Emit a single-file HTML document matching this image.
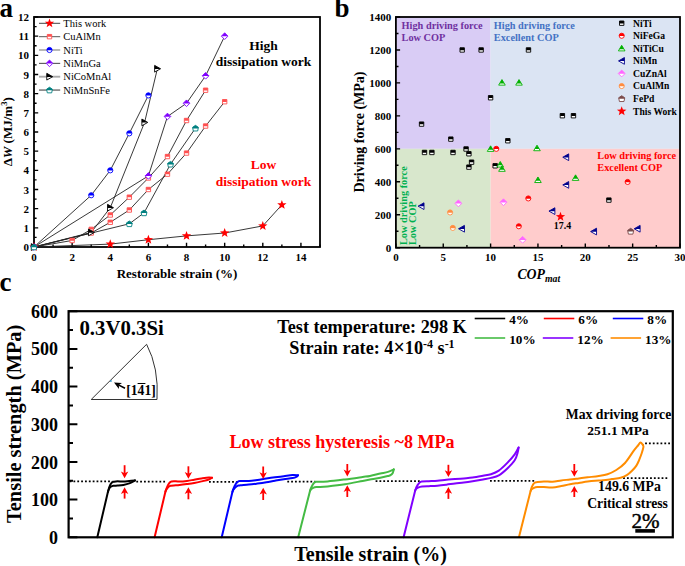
<!DOCTYPE html><html><head><meta charset="utf-8"><style>html,body{margin:0;padding:0;background:#fff;}svg{display:block;}</style></head><body><svg width="685" height="566" viewBox="0 0 685 566" font-family='"Liberation Serif", serif'>
<defs><clipPath id="c55" clipPathUnits="objectBoundingBox"><rect x="-0.2" y="-0.2" width="1.4" height="0.73"/></clipPath><clipPath id="c60" clipPathUnits="objectBoundingBox"><rect x="-0.2" y="-0.2" width="1.4" height="0.74"/></clipPath><clipPath id="c70" clipPathUnits="objectBoundingBox"><rect x="-0.2" y="-0.2" width="1.4" height="0.90"/></clipPath></defs>
<rect width="685" height="566" fill="#fff"/>
<text x="-0.50" y="17.20" font-size="27" font-weight="bold" text-anchor="start" fill="#000" >a</text>
<text x="334.60" y="17.40" font-size="27" font-weight="bold" text-anchor="start" fill="#000" >b</text>
<text x="-0.50" y="290.60" font-size="27" font-weight="bold" text-anchor="start" fill="#000" >c</text>
<rect x="34.0" y="17.0" width="286.0" height="230.0" fill="none" stroke="#000" stroke-width="1.8"/>
<path d="M34.00,247.0V242.8M53.07,247.0V244.4M72.13,247.0V242.8M91.20,247.0V244.4M110.27,247.0V242.8M129.33,247.0V244.4M148.40,247.0V242.8M167.47,247.0V244.4M186.53,247.0V242.8M205.60,247.0V244.4M224.67,247.0V242.8M243.73,247.0V244.4M262.80,247.0V242.8M281.87,247.0V244.4M300.93,247.0V242.8M320.00,247.0V244.4M34.0,247.00H38.2M34.0,237.42H36.6M34.0,227.83H38.2M34.0,218.25H36.6M34.0,208.67H38.2M34.0,199.08H36.6M34.0,189.50H38.2M34.0,179.92H36.6M34.0,170.33H38.2M34.0,160.75H36.6M34.0,151.17H38.2M34.0,141.58H36.6M34.0,132.00H38.2M34.0,122.42H36.6M34.0,112.83H38.2M34.0,103.25H36.6M34.0,93.67H38.2M34.0,84.08H36.6M34.0,74.50H38.2M34.0,64.92H36.6M34.0,55.33H38.2M34.0,45.75H36.6M34.0,36.17H38.2M34.0,26.58H36.6M34.0,17.00H38.2" stroke="#000" stroke-width="1.4"/>
<path d="M34.00,247.00L110.27,244.12L148.40,239.72L186.53,235.88L224.67,233.01L262.80,225.92L281.87,204.83" fill="none" stroke="#222" stroke-width="0.9"/>
<path d="M34.00,247.00L72.13,240.48L91.20,229.37L110.27,214.99L129.33,197.17L148.40,178.00L167.47,156.53L186.53,120.50L205.60,90.22" fill="none" stroke="#222" stroke-width="0.9"/>
<path d="M34.00,247.00L91.20,233.01L110.27,222.28L129.33,210.01L148.40,189.50L167.47,174.17L186.53,153.08L205.60,126.06L224.67,101.72" fill="none" stroke="#222" stroke-width="0.9"/>
<path d="M34.00,247.00L91.20,195.25L110.27,170.33L129.33,133.34L148.40,95.39" fill="none" stroke="#222" stroke-width="0.9"/>
<path d="M34.00,247.00L148.40,175.89L167.47,116.47L186.53,103.25L205.60,75.84L224.67,36.17" fill="none" stroke="#222" stroke-width="0.9"/>
<path d="M34.00,247.00L91.20,232.43L110.27,207.71L144.59,122.42L157.36,68.75" fill="none" stroke="#222" stroke-width="0.9"/>
<path d="M34.00,247.00L129.33,223.81L144.01,212.88L170.52,164.20L195.49,128.17" fill="none" stroke="#222" stroke-width="0.9"/>
<path d="M34.00,242.10L35.21,245.34L38.66,245.49L35.96,247.64L36.88,250.96L34.00,249.06L31.12,250.96L32.04,247.64L29.34,245.49L32.79,245.34Z" fill="#ff0000"/>
<path d="M110.27,239.22L111.48,242.46L114.93,242.61L112.22,244.76L113.15,248.09L110.27,246.18L107.39,248.09L108.31,244.76L105.61,242.61L109.06,242.46Z" fill="#ff0000"/>
<path d="M148.40,234.82L149.61,238.05L153.06,238.20L150.36,240.35L151.28,243.68L148.40,241.77L145.52,243.68L146.44,240.35L143.74,238.20L147.19,238.05Z" fill="#ff0000"/>
<path d="M186.53,230.98L187.74,234.22L191.19,234.37L188.49,236.52L189.41,239.85L186.53,237.94L183.65,239.85L184.58,236.52L181.87,234.37L185.32,234.22Z" fill="#ff0000"/>
<path d="M224.67,228.11L225.88,231.34L229.33,231.49L226.62,233.64L227.55,236.97L224.67,235.07L221.79,236.97L222.71,233.64L220.01,231.49L223.46,231.34Z" fill="#ff0000"/>
<path d="M262.80,221.02L264.01,224.25L267.46,224.40L264.76,226.55L265.68,229.88L262.80,227.97L259.92,229.88L260.84,226.55L258.14,224.40L261.59,224.25Z" fill="#ff0000"/>
<path d="M281.87,199.93L283.08,203.17L286.53,203.32L283.82,205.47L284.75,208.80L281.87,206.89L278.99,208.80L279.91,205.47L277.21,203.32L280.66,203.17Z" fill="#ff0000"/>
<path d="M31.80,244.80H36.20V249.20H31.80Z" fill="#fff" stroke="#ff5050" stroke-width="0.9"/>
<path d="M31.80,244.80H36.20V249.20H31.80Z" fill="#ff5050" clip-path="url(#c60)"/>
<path d="M69.93,238.28H74.33V242.68H69.93Z" fill="#fff" stroke="#ff5050" stroke-width="0.9"/>
<path d="M69.93,238.28H74.33V242.68H69.93Z" fill="#ff5050" clip-path="url(#c60)"/>
<path d="M89.00,227.17H93.40V231.57H89.00Z" fill="#fff" stroke="#ff5050" stroke-width="0.9"/>
<path d="M89.00,227.17H93.40V231.57H89.00Z" fill="#ff5050" clip-path="url(#c60)"/>
<path d="M108.07,212.79H112.47V217.19H108.07Z" fill="#fff" stroke="#ff5050" stroke-width="0.9"/>
<path d="M108.07,212.79H112.47V217.19H108.07Z" fill="#ff5050" clip-path="url(#c60)"/>
<path d="M127.13,194.97H131.53V199.37H127.13Z" fill="#fff" stroke="#ff5050" stroke-width="0.9"/>
<path d="M127.13,194.97H131.53V199.37H127.13Z" fill="#ff5050" clip-path="url(#c60)"/>
<path d="M146.20,175.80H150.60V180.20H146.20Z" fill="#fff" stroke="#ff5050" stroke-width="0.9"/>
<path d="M146.20,175.80H150.60V180.20H146.20Z" fill="#ff5050" clip-path="url(#c60)"/>
<path d="M165.27,154.33H169.67V158.73H165.27Z" fill="#fff" stroke="#ff5050" stroke-width="0.9"/>
<path d="M165.27,154.33H169.67V158.73H165.27Z" fill="#ff5050" clip-path="url(#c60)"/>
<path d="M184.33,118.30H188.73V122.70H184.33Z" fill="#fff" stroke="#ff5050" stroke-width="0.9"/>
<path d="M184.33,118.30H188.73V122.70H184.33Z" fill="#ff5050" clip-path="url(#c60)"/>
<path d="M203.40,88.02H207.80V92.42H203.40Z" fill="#fff" stroke="#ff5050" stroke-width="0.9"/>
<path d="M203.40,88.02H207.80V92.42H203.40Z" fill="#ff5050" clip-path="url(#c60)"/>
<path d="M31.80,244.80H36.20V249.20H31.80Z" fill="#fff" stroke="#ff5050" stroke-width="0.9"/>
<path d="M31.80,244.80H36.20V249.20H31.80Z" fill="#ff5050" clip-path="url(#c60)"/>
<path d="M89.00,230.81H93.40V235.21H89.00Z" fill="#fff" stroke="#ff5050" stroke-width="0.9"/>
<path d="M89.00,230.81H93.40V235.21H89.00Z" fill="#ff5050" clip-path="url(#c60)"/>
<path d="M108.07,220.08H112.47V224.47H108.07Z" fill="#fff" stroke="#ff5050" stroke-width="0.9"/>
<path d="M108.07,220.08H112.47V224.47H108.07Z" fill="#ff5050" clip-path="url(#c60)"/>
<path d="M127.13,207.81H131.53V212.21H127.13Z" fill="#fff" stroke="#ff5050" stroke-width="0.9"/>
<path d="M127.13,207.81H131.53V212.21H127.13Z" fill="#ff5050" clip-path="url(#c60)"/>
<path d="M146.20,187.30H150.60V191.70H146.20Z" fill="#fff" stroke="#ff5050" stroke-width="0.9"/>
<path d="M146.20,187.30H150.60V191.70H146.20Z" fill="#ff5050" clip-path="url(#c60)"/>
<path d="M165.27,171.97H169.67V176.37H165.27Z" fill="#fff" stroke="#ff5050" stroke-width="0.9"/>
<path d="M165.27,171.97H169.67V176.37H165.27Z" fill="#ff5050" clip-path="url(#c60)"/>
<path d="M184.33,150.88H188.73V155.28H184.33Z" fill="#fff" stroke="#ff5050" stroke-width="0.9"/>
<path d="M184.33,150.88H188.73V155.28H184.33Z" fill="#ff5050" clip-path="url(#c60)"/>
<path d="M203.40,123.86H207.80V128.26H203.40Z" fill="#fff" stroke="#ff5050" stroke-width="0.9"/>
<path d="M203.40,123.86H207.80V128.26H203.40Z" fill="#ff5050" clip-path="url(#c60)"/>
<path d="M222.47,99.52H226.87V103.92H222.47Z" fill="#fff" stroke="#ff5050" stroke-width="0.9"/>
<path d="M222.47,99.52H226.87V103.92H222.47Z" fill="#ff5050" clip-path="url(#c60)"/>
<path d="M31.40,247.00A2.6,2.6 0 1 0 36.60,247.00A2.6,2.6 0 1 0 31.40,247.00Z" fill="#fff" stroke="#0000ff" stroke-width="0.9"/>
<path d="M31.40,247.00A2.6,2.6 0 1 0 36.60,247.00A2.6,2.6 0 1 0 31.40,247.00Z" fill="#0000ff" clip-path="url(#c60)"/>
<path d="M88.60,195.25A2.6,2.6 0 1 0 93.80,195.25A2.6,2.6 0 1 0 88.60,195.25Z" fill="#fff" stroke="#0000ff" stroke-width="0.9"/>
<path d="M88.60,195.25A2.6,2.6 0 1 0 93.80,195.25A2.6,2.6 0 1 0 88.60,195.25Z" fill="#0000ff" clip-path="url(#c60)"/>
<path d="M107.67,170.33A2.6,2.6 0 1 0 112.87,170.33A2.6,2.6 0 1 0 107.67,170.33Z" fill="#fff" stroke="#0000ff" stroke-width="0.9"/>
<path d="M107.67,170.33A2.6,2.6 0 1 0 112.87,170.33A2.6,2.6 0 1 0 107.67,170.33Z" fill="#0000ff" clip-path="url(#c60)"/>
<path d="M126.73,133.34A2.6,2.6 0 1 0 131.93,133.34A2.6,2.6 0 1 0 126.73,133.34Z" fill="#fff" stroke="#0000ff" stroke-width="0.9"/>
<path d="M126.73,133.34A2.6,2.6 0 1 0 131.93,133.34A2.6,2.6 0 1 0 126.73,133.34Z" fill="#0000ff" clip-path="url(#c60)"/>
<path d="M145.80,95.39A2.6,2.6 0 1 0 151.00,95.39A2.6,2.6 0 1 0 145.80,95.39Z" fill="#fff" stroke="#0000ff" stroke-width="0.9"/>
<path d="M145.80,95.39A2.6,2.6 0 1 0 151.00,95.39A2.6,2.6 0 1 0 145.80,95.39Z" fill="#0000ff" clip-path="url(#c60)"/>
<path d="M34.00,243.70L37.30,247.00L34.00,250.30L30.70,247.00Z" fill="#fff" stroke="#8000ff" stroke-width="0.9"/>
<path d="M34.00,243.70L37.30,247.00L34.00,250.30L30.70,247.00Z" fill="#8000ff" clip-path="url(#c55)"/>
<path d="M148.40,172.59L151.70,175.89L148.40,179.19L145.10,175.89Z" fill="#fff" stroke="#8000ff" stroke-width="0.9"/>
<path d="M148.40,172.59L151.70,175.89L148.40,179.19L145.10,175.89Z" fill="#8000ff" clip-path="url(#c55)"/>
<path d="M167.47,113.17L170.77,116.47L167.47,119.77L164.17,116.47Z" fill="#fff" stroke="#8000ff" stroke-width="0.9"/>
<path d="M167.47,113.17L170.77,116.47L167.47,119.77L164.17,116.47Z" fill="#8000ff" clip-path="url(#c55)"/>
<path d="M186.53,99.95L189.83,103.25L186.53,106.55L183.23,103.25Z" fill="#fff" stroke="#8000ff" stroke-width="0.9"/>
<path d="M186.53,99.95L189.83,103.25L186.53,106.55L183.23,103.25Z" fill="#8000ff" clip-path="url(#c55)"/>
<path d="M205.60,72.54L208.90,75.84L205.60,79.14L202.30,75.84Z" fill="#fff" stroke="#8000ff" stroke-width="0.9"/>
<path d="M205.60,72.54L208.90,75.84L205.60,79.14L202.30,75.84Z" fill="#8000ff" clip-path="url(#c55)"/>
<path d="M224.67,32.87L227.97,36.17L224.67,39.47L221.37,36.17Z" fill="#fff" stroke="#8000ff" stroke-width="0.9"/>
<path d="M224.67,32.87L227.97,36.17L224.67,39.47L221.37,36.17Z" fill="#8000ff" clip-path="url(#c55)"/>
<path d="M37.20,247.00L31.28,243.64L31.28,250.36Z" fill="#fff" stroke="#000000" stroke-width="0.9"/>
<path d="M37.20,247.00L31.28,243.64L31.28,250.36Z" fill="#000000" clip-path="url(#c55)"/>
<path d="M94.40,232.43L88.48,229.07L88.48,235.79Z" fill="#fff" stroke="#000000" stroke-width="0.9"/>
<path d="M94.40,232.43L88.48,229.07L88.48,235.79Z" fill="#000000" clip-path="url(#c55)"/>
<path d="M113.47,207.71L107.55,204.35L107.55,211.07Z" fill="#fff" stroke="#000000" stroke-width="0.9"/>
<path d="M113.47,207.71L107.55,204.35L107.55,211.07Z" fill="#000000" clip-path="url(#c55)"/>
<path d="M147.79,122.42L141.87,119.06L141.87,125.78Z" fill="#fff" stroke="#000000" stroke-width="0.9"/>
<path d="M147.79,122.42L141.87,119.06L141.87,125.78Z" fill="#000000" clip-path="url(#c55)"/>
<path d="M160.56,68.75L154.64,65.39L154.64,72.11Z" fill="#fff" stroke="#000000" stroke-width="0.9"/>
<path d="M160.56,68.75L154.64,65.39L154.64,72.11Z" fill="#000000" clip-path="url(#c55)"/>
<path d="M34.00,244.20L36.94,246.16L36.18,249.80L31.82,249.80L31.06,246.16Z" fill="#fff" stroke="#008080" stroke-width="0.9"/>
<path d="M34.00,244.20L36.94,246.16L36.18,249.80L31.82,249.80L31.06,246.16Z" fill="#008080" clip-path="url(#c60)"/>
<path d="M129.33,221.01L132.27,222.97L131.52,226.61L127.15,226.61L126.39,222.97Z" fill="#fff" stroke="#008080" stroke-width="0.9"/>
<path d="M129.33,221.01L132.27,222.97L131.52,226.61L127.15,226.61L126.39,222.97Z" fill="#008080" clip-path="url(#c60)"/>
<path d="M144.01,210.08L146.95,212.04L146.20,215.68L141.83,215.68L141.07,212.04Z" fill="#fff" stroke="#008080" stroke-width="0.9"/>
<path d="M144.01,210.08L146.95,212.04L146.20,215.68L141.83,215.68L141.07,212.04Z" fill="#008080" clip-path="url(#c60)"/>
<path d="M170.52,161.40L173.46,163.36L172.70,167.00L168.33,167.00L167.58,163.36Z" fill="#fff" stroke="#008080" stroke-width="0.9"/>
<path d="M170.52,161.40L173.46,163.36L172.70,167.00L168.33,167.00L167.58,163.36Z" fill="#008080" clip-path="url(#c60)"/>
<path d="M195.49,125.37L198.43,127.33L197.68,130.97L193.31,130.97L192.55,127.33Z" fill="#fff" stroke="#008080" stroke-width="0.9"/>
<path d="M195.49,125.37L198.43,127.33L197.68,130.97L193.31,130.97L192.55,127.33Z" fill="#008080" clip-path="url(#c60)"/>
<text x="34.00" y="260.80" font-size="11" font-weight="bold" text-anchor="middle" fill="#000" >0</text>
<text x="72.13" y="260.80" font-size="11" font-weight="bold" text-anchor="middle" fill="#000" >2</text>
<text x="110.27" y="260.80" font-size="11" font-weight="bold" text-anchor="middle" fill="#000" >4</text>
<text x="148.40" y="260.80" font-size="11" font-weight="bold" text-anchor="middle" fill="#000" >6</text>
<text x="186.53" y="260.80" font-size="11" font-weight="bold" text-anchor="middle" fill="#000" >8</text>
<text x="224.67" y="260.80" font-size="11" font-weight="bold" text-anchor="middle" fill="#000" >10</text>
<text x="262.80" y="260.80" font-size="11" font-weight="bold" text-anchor="middle" fill="#000" >12</text>
<text x="300.93" y="260.80" font-size="11" font-weight="bold" text-anchor="middle" fill="#000" >14</text>
<text x="29.00" y="251.00" font-size="11" font-weight="bold" text-anchor="end" fill="#000" >0</text>
<text x="29.00" y="231.83" font-size="11" font-weight="bold" text-anchor="end" fill="#000" >1</text>
<text x="29.00" y="212.67" font-size="11" font-weight="bold" text-anchor="end" fill="#000" >2</text>
<text x="29.00" y="193.50" font-size="11" font-weight="bold" text-anchor="end" fill="#000" >3</text>
<text x="29.00" y="174.33" font-size="11" font-weight="bold" text-anchor="end" fill="#000" >4</text>
<text x="29.00" y="155.17" font-size="11" font-weight="bold" text-anchor="end" fill="#000" >5</text>
<text x="29.00" y="136.00" font-size="11" font-weight="bold" text-anchor="end" fill="#000" >6</text>
<text x="29.00" y="116.83" font-size="11" font-weight="bold" text-anchor="end" fill="#000" >7</text>
<text x="29.00" y="97.67" font-size="11" font-weight="bold" text-anchor="end" fill="#000" >8</text>
<text x="29.00" y="78.50" font-size="11" font-weight="bold" text-anchor="end" fill="#000" >9</text>
<text x="29.00" y="59.33" font-size="11" font-weight="bold" text-anchor="end" fill="#000" >10</text>
<text x="29.00" y="40.17" font-size="11" font-weight="bold" text-anchor="end" fill="#000" >11</text>
<text x="29.00" y="21.00" font-size="11" font-weight="bold" text-anchor="end" fill="#000" >12</text>
<text x="177.00" y="277.70" font-size="13" font-weight="bold" text-anchor="middle" fill="#000" >Restorable strain (%)</text>
<text transform="translate(12.2,131.8) rotate(-90)" text-anchor="middle" font-size="13" font-weight="bold">&#916;<tspan font-style="italic">W</tspan> (MJ/m<tspan font-size="8.5" dy="-5">3</tspan><tspan dy="5">)</tspan></text>
<path d="M39,23.30H60.2" stroke="#444" stroke-width="1.0"/>
<path d="M49.50,18.40L50.71,21.64L54.16,21.79L51.46,23.94L52.38,27.26L49.50,25.36L46.62,27.26L47.54,23.94L44.84,21.79L48.29,21.64Z" fill="#ff0000"/>
<text x="63.30" y="26.90" font-size="10.5" font-weight="normal" text-anchor="start" fill="#000" >This work</text>
<path d="M39,36.65H60.2" stroke="#666" stroke-width="1.1"/>
<path d="M47.30,34.45H51.70V38.85H47.30Z" fill="#fff" stroke="#ff5050" stroke-width="0.9"/>
<path d="M47.30,34.45H51.70V38.85H47.30Z" fill="#ff5050" clip-path="url(#c60)"/>
<text x="63.30" y="40.25" font-size="10.5" font-weight="normal" text-anchor="start" fill="#000" >CuAlMn</text>
<path d="M39,50.00H60.2" stroke="#888" stroke-width="1.2"/>
<path d="M46.90,50.00A2.6,2.6 0 1 0 52.10,50.00A2.6,2.6 0 1 0 46.90,50.00Z" fill="#fff" stroke="#0000ff" stroke-width="0.9"/>
<path d="M46.90,50.00A2.6,2.6 0 1 0 52.10,50.00A2.6,2.6 0 1 0 46.90,50.00Z" fill="#0000ff" clip-path="url(#c60)"/>
<text x="63.30" y="53.60" font-size="10.5" font-weight="normal" text-anchor="start" fill="#000" >NiTi</text>
<path d="M39,63.35H60.2" stroke="#444" stroke-width="1.0"/>
<path d="M49.50,60.05L52.80,63.35L49.50,66.65L46.20,63.35Z" fill="#fff" stroke="#8000ff" stroke-width="0.9"/>
<path d="M49.50,60.05L52.80,63.35L49.50,66.65L46.20,63.35Z" fill="#8000ff" clip-path="url(#c55)"/>
<text x="63.30" y="66.95" font-size="10.5" font-weight="normal" text-anchor="start" fill="#000" >NiMnGa</text>
<path d="M39,76.70H60.2" stroke="#aaa" stroke-width="1.9"/>
<path d="M52.70,76.70L46.78,73.34L46.78,80.06Z" fill="#fff" stroke="#000000" stroke-width="0.9"/>
<path d="M52.70,76.70L46.78,73.34L46.78,80.06Z" fill="#000000" clip-path="url(#c55)"/>
<text x="63.30" y="80.30" font-size="10.5" font-weight="normal" text-anchor="start" fill="#000" >NiCoMnAl</text>
<path d="M39,90.05H60.2" stroke="#333" stroke-width="1.0"/>
<path d="M49.50,87.25L52.44,89.21L51.68,92.85L47.32,92.85L46.56,89.21Z" fill="#fff" stroke="#008080" stroke-width="0.9"/>
<path d="M49.50,87.25L52.44,89.21L51.68,92.85L47.32,92.85L46.56,89.21Z" fill="#008080" clip-path="url(#c60)"/>
<text x="63.30" y="93.65" font-size="10.5" font-weight="normal" text-anchor="start" fill="#000" >NiMnSnFe</text>
<text x="263.50" y="49.90" font-size="13.5" font-weight="bold" text-anchor="middle" fill="#000" >High</text>
<text x="263.50" y="66.30" font-size="13.5" font-weight="bold" text-anchor="middle" fill="#000" >dissipation work</text>
<text x="263.50" y="169.10" font-size="13.5" font-weight="bold" text-anchor="middle" fill="#ff0000" >Low</text>
<text x="263.50" y="185.50" font-size="13.5" font-weight="bold" text-anchor="middle" fill="#ff0000" >dissipation work</text>
<rect x="395.9" y="17.0" width="94.70" height="131.83" fill="#d9ccf5"/>
<rect x="490.60" y="17.0" width="189.40" height="131.83" fill="#dbe4f3"/>
<rect x="395.9" y="148.83" width="94.70" height="98.87" fill="#d8e7cc"/>
<rect x="490.60" y="148.83" width="189.40" height="98.87" fill="#ffcccc"/>
<text x="401.60" y="28.90" font-size="10.3" font-weight="bold" text-anchor="start" fill="#7030a0" >High driving force</text>
<text x="401.60" y="41.00" font-size="10.3" font-weight="bold" text-anchor="start" fill="#7030a0" >Low COP</text>
<text x="493.80" y="28.90" font-size="10.3" font-weight="bold" text-anchor="start" fill="#4472c4" >High driving force</text>
<text x="493.80" y="41.00" font-size="10.3" font-weight="bold" text-anchor="start" fill="#4472c4" >Excellent COP</text>
<text x="597.30" y="159.00" font-size="10.3" font-weight="bold" text-anchor="start" fill="#ff0000" >Low driving force</text>
<text x="597.30" y="171.20" font-size="10.3" font-weight="bold" text-anchor="start" fill="#ff0000" >Excellent COP</text>
<text transform="translate(407.4,245) rotate(-90)" font-size="10.3" font-weight="bold" fill="#00b050">Low driving force</text>
<text transform="translate(416.2,245) rotate(-90)" font-size="10.3" font-weight="bold" fill="#00b050">Low COP</text>
<path d="M459.99,47.76H464.39V52.16H459.99Z" fill="#fff" stroke="#000000" stroke-width="0.9"/>
<path d="M459.99,47.76H464.39V52.16H459.99Z" fill="#000000" clip-path="url(#c60)"/>
<path d="M478.93,47.76H483.33V52.16H478.93Z" fill="#fff" stroke="#000000" stroke-width="0.9"/>
<path d="M478.93,47.76H483.33V52.16H478.93Z" fill="#000000" clip-path="url(#c60)"/>
<path d="M526.28,47.76H530.68V52.16H526.28Z" fill="#fff" stroke="#000000" stroke-width="0.9"/>
<path d="M526.28,47.76H530.68V52.16H526.28Z" fill="#000000" clip-path="url(#c60)"/>
<path d="M488.40,95.54H492.80V99.94H488.40Z" fill="#fff" stroke="#000000" stroke-width="0.9"/>
<path d="M488.40,95.54H492.80V99.94H488.40Z" fill="#000000" clip-path="url(#c60)"/>
<path d="M419.36,121.91H423.76V126.31H419.36Z" fill="#fff" stroke="#000000" stroke-width="0.9"/>
<path d="M419.36,121.91H423.76V126.31H419.36Z" fill="#000000" clip-path="url(#c60)"/>
<path d="M448.63,136.91H453.03V141.31H448.63Z" fill="#fff" stroke="#000000" stroke-width="0.9"/>
<path d="M448.63,136.91H453.03V141.31H448.63Z" fill="#000000" clip-path="url(#c60)"/>
<path d="M422.30,150.25H426.70V154.65H422.30Z" fill="#fff" stroke="#000000" stroke-width="0.9"/>
<path d="M422.30,150.25H426.70V154.65H422.30Z" fill="#000000" clip-path="url(#c60)"/>
<path d="M429.69,150.25H434.09V154.65H429.69Z" fill="#fff" stroke="#000000" stroke-width="0.9"/>
<path d="M429.69,150.25H434.09V154.65H429.69Z" fill="#000000" clip-path="url(#c60)"/>
<path d="M450.80,150.25H455.20V154.65H450.80Z" fill="#fff" stroke="#000000" stroke-width="0.9"/>
<path d="M450.80,150.25H455.20V154.65H450.80Z" fill="#000000" clip-path="url(#c60)"/>
<path d="M463.87,146.79H468.27V151.19H463.87Z" fill="#fff" stroke="#000000" stroke-width="0.9"/>
<path d="M463.87,146.79H468.27V151.19H463.87Z" fill="#000000" clip-path="url(#c60)"/>
<path d="M466.71,151.57H471.11V155.97H466.71Z" fill="#fff" stroke="#000000" stroke-width="0.9"/>
<path d="M466.71,151.57H471.11V155.97H466.71Z" fill="#000000" clip-path="url(#c60)"/>
<path d="M469.37,159.98H473.77V164.38H469.37Z" fill="#fff" stroke="#000000" stroke-width="0.9"/>
<path d="M469.37,159.98H473.77V164.38H469.37Z" fill="#000000" clip-path="url(#c60)"/>
<path d="M466.71,164.92H471.11V169.32H466.71Z" fill="#fff" stroke="#000000" stroke-width="0.9"/>
<path d="M466.71,164.92H471.11V169.32H466.71Z" fill="#000000" clip-path="url(#c60)"/>
<path d="M505.64,138.55H510.04V142.95H505.64Z" fill="#fff" stroke="#000000" stroke-width="0.9"/>
<path d="M505.64,138.55H510.04V142.95H505.64Z" fill="#000000" clip-path="url(#c60)"/>
<path d="M492.95,163.60H497.35V168.00H492.95Z" fill="#fff" stroke="#000000" stroke-width="0.9"/>
<path d="M492.95,163.60H497.35V168.00H492.95Z" fill="#000000" clip-path="url(#c60)"/>
<path d="M560.18,113.51H564.58V117.91H560.18Z" fill="#fff" stroke="#000000" stroke-width="0.9"/>
<path d="M560.18,113.51H564.58V117.91H560.18Z" fill="#000000" clip-path="url(#c60)"/>
<path d="M571.26,113.51H575.66V117.91H571.26Z" fill="#fff" stroke="#000000" stroke-width="0.9"/>
<path d="M571.26,113.51H575.66V117.91H571.26Z" fill="#000000" clip-path="url(#c60)"/>
<path d="M606.68,197.88H611.08V202.28H606.68Z" fill="#fff" stroke="#000000" stroke-width="0.9"/>
<path d="M606.68,197.88H611.08V202.28H606.68Z" fill="#000000" clip-path="url(#c60)"/>
<path d="M493.73,148.83A2.55,2.55 0 1 0 498.83,148.83A2.55,2.55 0 1 0 493.73,148.83Z" fill="#fff" stroke="#ff0000" stroke-width="0.9"/>
<path d="M493.73,148.83A2.55,2.55 0 1 0 498.83,148.83A2.55,2.55 0 1 0 493.73,148.83Z" fill="#ff0000" clip-path="url(#c60)"/>
<path d="M525.74,198.43A2.55,2.55 0 1 0 530.84,198.43A2.55,2.55 0 1 0 525.74,198.43Z" fill="#fff" stroke="#ff0000" stroke-width="0.9"/>
<path d="M525.74,198.43A2.55,2.55 0 1 0 530.84,198.43A2.55,2.55 0 1 0 525.74,198.43Z" fill="#ff0000" clip-path="url(#c60)"/>
<path d="M516.27,226.28A2.55,2.55 0 1 0 521.37,226.28A2.55,2.55 0 1 0 516.27,226.28Z" fill="#fff" stroke="#ff0000" stroke-width="0.9"/>
<path d="M516.27,226.28A2.55,2.55 0 1 0 521.37,226.28A2.55,2.55 0 1 0 516.27,226.28Z" fill="#ff0000" clip-path="url(#c60)"/>
<path d="M625.08,181.95A2.55,2.55 0 1 0 630.18,181.95A2.55,2.55 0 1 0 625.08,181.95Z" fill="#fff" stroke="#ff0000" stroke-width="0.9"/>
<path d="M625.08,181.95A2.55,2.55 0 1 0 630.18,181.95A2.55,2.55 0 1 0 625.08,181.95Z" fill="#ff0000" clip-path="url(#c60)"/>
<path d="M490.60,145.83L493.90,151.38L487.30,151.38Z" fill="#fff" stroke="#00b000" stroke-width="0.9"/>
<path d="M490.60,145.83L493.90,151.38L487.30,151.38Z" fill="#00b000" clip-path="url(#c70)"/>
<path d="M501.96,79.58L505.26,85.13L498.66,85.13Z" fill="#fff" stroke="#00b000" stroke-width="0.9"/>
<path d="M501.96,79.58L505.26,85.13L498.66,85.13Z" fill="#00b000" clip-path="url(#c70)"/>
<path d="M519.01,79.58L522.31,85.13L515.71,85.13Z" fill="#fff" stroke="#00b000" stroke-width="0.9"/>
<path d="M519.01,79.58L522.31,85.13L515.71,85.13Z" fill="#00b000" clip-path="url(#c70)"/>
<path d="M537.00,145.17L540.30,150.72L533.70,150.72Z" fill="#fff" stroke="#00b000" stroke-width="0.9"/>
<path d="M537.00,145.17L540.30,150.72L533.70,150.72Z" fill="#00b000" clip-path="url(#c70)"/>
<path d="M500.26,161.48L503.56,167.03L496.96,167.03Z" fill="#fff" stroke="#00b000" stroke-width="0.9"/>
<path d="M500.26,161.48L503.56,167.03L496.96,167.03Z" fill="#00b000" clip-path="url(#c70)"/>
<path d="M501.96,165.77L505.26,171.32L498.66,171.32Z" fill="#fff" stroke="#00b000" stroke-width="0.9"/>
<path d="M501.96,165.77L505.26,171.32L498.66,171.32Z" fill="#00b000" clip-path="url(#c70)"/>
<path d="M537.95,176.97L541.25,182.52L534.65,182.52Z" fill="#fff" stroke="#00b000" stroke-width="0.9"/>
<path d="M537.95,176.97L541.25,182.52L534.65,182.52Z" fill="#00b000" clip-path="url(#c70)"/>
<path d="M575.55,174.83L578.85,180.38L572.25,180.38Z" fill="#fff" stroke="#00b000" stroke-width="0.9"/>
<path d="M575.55,174.83L578.85,180.38L572.25,180.38Z" fill="#00b000" clip-path="url(#c70)"/>
<path d="M562.78,157.23L568.70,153.87L568.70,160.59Z" fill="#fff" stroke="#00008b" stroke-width="0.9"/>
<path d="M562.78,157.23L568.70,153.87L568.70,160.59Z" fill="#00008b" clip-path="url(#c55)"/>
<path d="M562.78,184.92L568.70,181.56L568.70,188.28Z" fill="#fff" stroke="#00008b" stroke-width="0.9"/>
<path d="M562.78,184.92L568.70,181.56L568.70,188.28Z" fill="#00008b" clip-path="url(#c55)"/>
<path d="M548.95,211.12L554.88,207.76L554.88,214.48Z" fill="#fff" stroke="#00008b" stroke-width="0.9"/>
<path d="M548.95,211.12L554.88,207.76L554.88,214.48Z" fill="#00008b" clip-path="url(#c55)"/>
<path d="M418.08,206.17L424.00,202.81L424.00,209.53Z" fill="#fff" stroke="#00008b" stroke-width="0.9"/>
<path d="M418.08,206.17L424.00,202.81L424.00,209.53Z" fill="#00008b" clip-path="url(#c55)"/>
<path d="M458.52,228.75L464.44,225.39L464.44,232.11Z" fill="#fff" stroke="#00008b" stroke-width="0.9"/>
<path d="M458.52,228.75L464.44,225.39L464.44,232.11Z" fill="#00008b" clip-path="url(#c55)"/>
<path d="M590.62,231.55L596.54,228.19L596.54,234.91Z" fill="#fff" stroke="#00008b" stroke-width="0.9"/>
<path d="M590.62,231.55L596.54,228.19L596.54,234.91Z" fill="#00008b" clip-path="url(#c55)"/>
<path d="M634.18,228.75L640.11,225.39L640.11,232.11Z" fill="#fff" stroke="#00008b" stroke-width="0.9"/>
<path d="M634.18,228.75L640.11,225.39L640.11,232.11Z" fill="#00008b" clip-path="url(#c55)"/>
<path d="M503.48,198.82L506.88,202.22L503.48,205.62L500.08,202.22Z" fill="#fff" stroke="#ff66ff" stroke-width="0.9"/>
<path d="M503.48,198.82L506.88,202.22L503.48,205.62L500.08,202.22Z" fill="#ff66ff" clip-path="url(#c55)"/>
<path d="M522.61,236.39L526.01,239.79L522.61,243.19L519.21,239.79Z" fill="#fff" stroke="#ff66ff" stroke-width="0.9"/>
<path d="M522.61,236.39L526.01,239.79L522.61,243.19L519.21,239.79Z" fill="#ff66ff" clip-path="url(#c55)"/>
<path d="M458.40,199.97L461.80,203.37L458.40,206.77L455.00,203.37Z" fill="#fff" stroke="#ff66ff" stroke-width="0.9"/>
<path d="M458.40,199.97L461.80,203.37L458.40,206.77L455.00,203.37Z" fill="#ff66ff" clip-path="url(#c55)"/>
<path d="M447.52,212.44A2.55,2.55 0 1 0 452.62,212.44A2.55,2.55 0 1 0 447.52,212.44Z" fill="#fff" stroke="#ff8c40" stroke-width="0.9"/>
<path d="M447.52,212.44A2.55,2.55 0 1 0 452.62,212.44A2.55,2.55 0 1 0 447.52,212.44Z" fill="#ff8c40" clip-path="url(#c60)"/>
<path d="M450.26,227.93A2.55,2.55 0 1 0 455.36,227.93A2.55,2.55 0 1 0 450.26,227.93Z" fill="#fff" stroke="#ff8c40" stroke-width="0.9"/>
<path d="M450.26,227.93A2.55,2.55 0 1 0 455.36,227.93A2.55,2.55 0 1 0 450.26,227.93Z" fill="#ff8c40" clip-path="url(#c60)"/>
<path d="M630.66,228.32L633.71,230.35L632.92,234.12L628.40,234.12L627.62,230.35Z" fill="#fff" stroke="#7b4a4a" stroke-width="0.9"/>
<path d="M630.66,228.32L633.71,230.35L632.92,234.12L628.40,234.12L627.62,230.35Z" fill="#7b4a4a" clip-path="url(#c60)"/>
<path d="M560.49,211.82L561.70,215.06L565.15,215.21L562.45,217.36L563.37,220.68L560.49,218.78L557.61,220.68L558.53,217.36L555.83,215.21L559.28,215.06Z" fill="#ff0000"/>
<text x="562.50" y="229.00" font-size="9.9" font-weight="bold" text-anchor="middle" fill="#000" >17.4</text>
<path d="M619.50,21.00H623.90V25.40H619.50Z" fill="#fff" stroke="#000000" stroke-width="0.9"/>
<path d="M619.50,21.00H623.90V25.40H619.50Z" fill="#000000" clip-path="url(#c60)"/>
<text x="633.10" y="26.60" font-size="9.6" font-weight="bold" text-anchor="start" fill="#000" >NiTi</text>
<path d="M619.15,35.77A2.55,2.55 0 1 0 624.25,35.77A2.55,2.55 0 1 0 619.15,35.77Z" fill="#fff" stroke="#ff0000" stroke-width="0.9"/>
<path d="M619.15,35.77A2.55,2.55 0 1 0 624.25,35.77A2.55,2.55 0 1 0 619.15,35.77Z" fill="#ff0000" clip-path="url(#c60)"/>
<text x="633.10" y="39.17" font-size="9.6" font-weight="bold" text-anchor="start" fill="#000" >NiFeGa</text>
<path d="M621.70,45.34L625.00,50.89L618.40,50.89Z" fill="#fff" stroke="#00b000" stroke-width="0.9"/>
<path d="M621.70,45.34L625.00,50.89L618.40,50.89Z" fill="#00b000" clip-path="url(#c70)"/>
<text x="633.10" y="51.74" font-size="9.6" font-weight="bold" text-anchor="start" fill="#000" >NiTiCu</text>
<path d="M618.50,60.91L624.42,57.55L624.42,64.27Z" fill="#fff" stroke="#00008b" stroke-width="0.9"/>
<path d="M618.50,60.91L624.42,57.55L624.42,64.27Z" fill="#00008b" clip-path="url(#c55)"/>
<text x="633.10" y="64.31" font-size="9.6" font-weight="bold" text-anchor="start" fill="#000" >NiMn</text>
<path d="M621.70,70.08L625.10,73.48L621.70,76.88L618.30,73.48Z" fill="#fff" stroke="#ff66ff" stroke-width="0.9"/>
<path d="M621.70,70.08L625.10,73.48L621.70,76.88L618.30,73.48Z" fill="#ff66ff" clip-path="url(#c55)"/>
<text x="633.10" y="76.88" font-size="9.6" font-weight="bold" text-anchor="start" fill="#000" >CuZnAl</text>
<path d="M619.15,86.05A2.55,2.55 0 1 0 624.25,86.05A2.55,2.55 0 1 0 619.15,86.05Z" fill="#fff" stroke="#ff8c40" stroke-width="0.9"/>
<path d="M619.15,86.05A2.55,2.55 0 1 0 624.25,86.05A2.55,2.55 0 1 0 619.15,86.05Z" fill="#ff8c40" clip-path="url(#c60)"/>
<text x="633.10" y="89.45" font-size="9.6" font-weight="bold" text-anchor="start" fill="#000" >CuAlMn</text>
<path d="M621.70,95.72L624.75,97.75L623.96,101.52L619.44,101.52L618.66,97.75Z" fill="#fff" stroke="#7b4a4a" stroke-width="0.9"/>
<path d="M621.70,95.72L624.75,97.75L623.96,101.52L619.44,101.52L618.66,97.75Z" fill="#7b4a4a" clip-path="url(#c60)"/>
<text x="633.10" y="102.02" font-size="9.6" font-weight="bold" text-anchor="start" fill="#000" >FePd</text>
<path d="M621.70,106.19L622.93,109.49L626.46,109.64L623.70,111.84L624.64,115.24L621.70,113.29L618.76,115.24L619.70,111.84L616.94,109.64L620.47,109.49Z" fill="#ff0000"/>
<text x="633.10" y="114.59" font-size="9.6" font-weight="bold" text-anchor="start" fill="#000" >This Work</text>
<rect x="395.9" y="17.0" width="284.10" height="230.70" fill="none" stroke="#000" stroke-width="1.8"/>
<path d="M395.90,247.7V243.5M419.57,247.7V245.1M443.25,247.7V243.5M466.92,247.7V245.1M490.60,247.7V243.5M514.27,247.7V245.1M537.95,247.7V243.5M561.62,247.7V245.1M585.30,247.7V243.5M608.98,247.7V245.1M632.65,247.7V243.5M656.33,247.7V245.1M680.00,247.7V243.5M395.9,247.70H400.09999999999997M395.9,231.22H398.5M395.9,214.74H400.09999999999997M395.9,198.26H398.5M395.9,181.79H400.09999999999997M395.9,165.31H398.5M395.9,148.83H400.09999999999997M395.9,132.35H398.5M395.9,115.87H400.09999999999997M395.9,99.39H398.5M395.9,82.91H400.09999999999997M395.9,66.44H398.5M395.9,49.96H400.09999999999997M395.9,33.48H398.5M395.9,17.00H400.09999999999997" stroke="#000" stroke-width="1.4"/>
<text x="395.90" y="261.40" font-size="11" font-weight="bold" text-anchor="middle" fill="#000" >0</text>
<text x="443.25" y="261.40" font-size="11" font-weight="bold" text-anchor="middle" fill="#000" >5</text>
<text x="490.60" y="261.40" font-size="11" font-weight="bold" text-anchor="middle" fill="#000" >10</text>
<text x="537.95" y="261.40" font-size="11" font-weight="bold" text-anchor="middle" fill="#000" >15</text>
<text x="585.30" y="261.40" font-size="11" font-weight="bold" text-anchor="middle" fill="#000" >20</text>
<text x="632.65" y="261.40" font-size="11" font-weight="bold" text-anchor="middle" fill="#000" >25</text>
<text x="680.00" y="261.40" font-size="11" font-weight="bold" text-anchor="middle" fill="#000" >30</text>
<text x="391.30" y="251.70" font-size="11" font-weight="bold" text-anchor="end" fill="#000" >0</text>
<text x="391.30" y="218.74" font-size="11" font-weight="bold" text-anchor="end" fill="#000" >200</text>
<text x="391.30" y="185.79" font-size="11" font-weight="bold" text-anchor="end" fill="#000" >400</text>
<text x="391.30" y="152.83" font-size="11" font-weight="bold" text-anchor="end" fill="#000" >600</text>
<text x="391.30" y="119.87" font-size="11" font-weight="bold" text-anchor="end" fill="#000" >800</text>
<text x="391.30" y="86.91" font-size="11" font-weight="bold" text-anchor="end" fill="#000" >1000</text>
<text x="391.30" y="53.96" font-size="11" font-weight="bold" text-anchor="end" fill="#000" >1200</text>
<text x="391.30" y="21.00" font-size="11" font-weight="bold" text-anchor="end" fill="#000" >1400</text>
<text transform="translate(363.6,132.0) rotate(-90)" text-anchor="middle" font-size="14" font-weight="bold">Driving force (MPa)</text>
<text x="517.4" y="278.9" font-size="13.8" font-weight="bold" font-style="italic">COP<tspan font-size="9.8" dy="3.3">mat</tspan></text>
<path d="M69.6,481.4H112.3" stroke="#000" stroke-width="1.8" stroke-dasharray="1.8,2.05"/>
<path d="M136.3,481.7H166.5" stroke="#000" stroke-width="1.8" stroke-dasharray="1.8,2.05"/>
<path d="M209.0,481.8H236.8" stroke="#000" stroke-width="1.8" stroke-dasharray="1.8,2.05"/>
<path d="M287.3,481.7H315.3" stroke="#000" stroke-width="1.8" stroke-dasharray="1.8,2.05"/>
<path d="M375.6,481.2H420.5" stroke="#000" stroke-width="1.8" stroke-dasharray="1.8,2.05"/>
<path d="M490.0,480.9H535.0" stroke="#000" stroke-width="1.8" stroke-dasharray="1.8,2.05"/>
<path d="M623.1,478.1H668.2" stroke="#000" stroke-width="1.8" stroke-dasharray="1.8,2.05"/>
<path d="M645.1,443.4H670.6" stroke="#000" stroke-width="1.8" stroke-dasharray="1.8,2.05"/>
<path d="M97.30,537.30L107.90,492.00C108.63,488.88 110.82,482.11 113.40,481.80C114.08,481.72 115.83,481.33 117.50,481.30C119.17,481.27 121.45,481.65 123.40,481.60C125.35,481.55 127.27,481.20 129.20,481.00C131.13,480.80 134.03,480.50 135.00,480.40" fill="none" stroke="#000000" stroke-width="2.0" stroke-linejoin="round" stroke-linecap="round"/>
<path d="M135.00,480.40C134.03,480.90 131.13,482.65 129.20,483.40C127.27,484.15 125.35,484.53 123.40,484.90C121.45,485.27 119.33,485.43 117.50,485.60C115.67,485.77 113.25,485.85 112.40,485.90C110.20,486.03 108.40,489.86 107.90,492.00" fill="none" stroke="#000000" stroke-width="2.0" stroke-linejoin="round" stroke-linecap="round"/>
<path d="M154.60,537.30L165.40,491.80C166.14,488.69 168.82,481.82 171.40,481.50C171.80,481.45 172.43,481.20 173.80,481.20C175.17,481.20 177.42,481.55 179.60,481.50C181.78,481.45 184.47,481.20 186.90,480.90C189.33,480.60 191.77,480.10 194.20,479.70C196.63,479.30 199.07,478.87 201.50,478.50C203.93,478.13 207.03,477.63 208.80,477.50C210.57,477.37 211.55,477.67 212.10,477.70" fill="none" stroke="#ff0000" stroke-width="2.0" stroke-linejoin="round" stroke-linecap="round"/>
<path d="M212.10,477.70C211.55,478.00 210.57,478.88 208.80,479.50C207.03,480.12 203.93,480.82 201.50,481.40C199.07,481.98 196.63,482.55 194.20,483.00C191.77,483.45 189.33,483.77 186.90,484.10C184.47,484.43 181.78,484.78 179.60,485.00C177.42,485.22 175.30,485.28 173.80,485.40C172.30,485.52 171.13,485.65 170.60,485.70C168.41,485.91 165.91,489.66 165.40,491.80" fill="none" stroke="#ff0000" stroke-width="2.0" stroke-linejoin="round" stroke-linecap="round"/>
<path d="M221.70,537.20L232.40,492.00C233.14,488.89 235.73,482.32 238.20,481.50C238.50,481.40 238.23,480.98 240.00,480.90C241.77,480.82 245.88,481.17 248.80,481.00C251.72,480.83 254.58,480.32 257.50,479.90C260.42,479.48 263.38,478.93 266.30,478.50C269.22,478.07 272.08,477.68 275.00,477.30C277.92,476.92 280.87,476.57 283.80,476.20C286.73,475.83 290.23,475.25 292.60,475.10C294.97,474.95 297.10,475.27 298.00,475.30" fill="none" stroke="#0000ff" stroke-width="2.0" stroke-linejoin="round" stroke-linecap="round"/>
<path d="M298.00,475.30C297.82,475.50 297.80,476.03 296.90,476.50C296.00,476.97 294.78,477.63 292.60,478.10C290.42,478.57 286.73,478.87 283.80,479.30C280.87,479.73 277.92,480.22 275.00,480.70C272.08,481.18 269.22,481.73 266.30,482.20C263.38,482.67 260.42,483.10 257.50,483.50C254.58,483.90 251.63,484.32 248.80,484.60C245.97,484.88 242.27,485.03 240.50,485.20C238.73,485.37 238.58,485.53 238.20,485.60C236.03,485.98 232.91,489.86 232.40,492.00" fill="none" stroke="#0000ff" stroke-width="2.0" stroke-linejoin="round" stroke-linecap="round"/>
<path d="M298.20,537.20L310.00,491.00C310.79,487.90 313.50,481.89 316.10,481.80C318.00,481.73 322.68,481.80 327.50,481.40C332.32,481.00 339.15,480.13 345.00,479.40C350.85,478.67 358.43,477.58 362.60,477.00C366.77,476.42 367.05,476.47 370.00,475.90C372.95,475.33 377.30,474.27 380.30,473.60C383.30,472.93 385.75,472.60 388.00,471.90C390.25,471.20 392.83,469.82 393.80,469.40" fill="none" stroke="#44bb44" stroke-width="2.0" stroke-linejoin="round" stroke-linecap="round"/>
<path d="M393.80,469.40C393.60,470.03 393.15,472.23 392.60,473.20C392.05,474.17 391.27,474.73 390.50,475.20C389.73,475.67 389.70,475.57 388.00,476.00C386.30,476.43 383.30,477.20 380.30,477.80C377.30,478.40 372.95,479.08 370.00,479.60C367.05,480.12 366.77,480.13 362.60,480.90C358.43,481.67 350.85,483.28 345.00,484.20C339.15,485.12 331.87,485.93 327.50,486.40C323.13,486.87 320.63,486.90 318.80,487.00C316.97,487.10 316.88,487.00 316.50,487.00C314.30,487.00 310.54,488.87 310.00,491.00" fill="none" stroke="#44bb44" stroke-width="2.0" stroke-linejoin="round" stroke-linecap="round"/>
<path d="M403.60,537.20L415.20,490.50C415.97,487.39 419.00,481.61 421.60,481.50C422.80,481.45 426.15,481.32 428.80,481.20C431.45,481.08 434.58,481.05 437.50,480.80C440.42,480.55 443.38,479.98 446.30,479.70C449.22,479.42 452.08,479.32 455.00,479.10C457.92,478.88 460.87,478.65 463.80,478.40C466.73,478.15 469.40,478.03 472.60,477.60C475.80,477.17 479.93,476.37 483.00,475.80C486.07,475.23 488.37,475.07 491.00,474.20C493.63,473.33 496.17,472.40 498.80,470.60C501.43,468.80 504.15,466.12 506.80,463.40C509.45,460.68 512.73,456.95 514.70,454.30C516.67,451.65 517.95,448.63 518.60,447.50" fill="none" stroke="#8000ff" stroke-width="2.0" stroke-linejoin="round" stroke-linecap="round"/>
<path d="M518.60,447.50C518.42,448.43 518.15,450.97 517.50,453.10C516.85,455.23 516.48,457.65 514.70,460.30C512.92,462.95 509.45,466.48 506.80,469.00C504.15,471.52 501.43,473.92 498.80,475.40C496.17,476.88 493.63,477.23 491.00,477.90C488.37,478.57 486.07,478.85 483.00,479.40C479.93,479.95 475.80,480.68 472.60,481.20C469.40,481.72 466.73,482.12 463.80,482.50C460.87,482.88 457.92,483.13 455.00,483.50C452.08,483.87 449.22,484.33 446.30,484.70C443.38,485.07 440.42,485.45 437.50,485.70C434.58,485.95 431.38,486.07 428.80,486.20C426.22,486.33 423.13,486.45 422.00,486.50C419.80,486.60 415.73,488.36 415.20,490.50" fill="none" stroke="#8000ff" stroke-width="2.0" stroke-linejoin="round" stroke-linecap="round"/>
<path d="M519.00,536.90L530.60,491.00C531.38,487.90 533.42,482.60 536.00,482.30C537.30,482.15 541.05,481.50 543.80,481.40C546.55,481.30 549.58,481.87 552.50,481.70C555.42,481.53 558.38,480.77 561.30,480.40C564.22,480.03 567.08,479.83 570.00,479.50C572.92,479.17 575.87,478.77 578.80,478.40C581.73,478.03 584.27,477.70 587.60,477.30C590.93,476.90 595.48,476.52 598.80,476.00C602.12,475.48 604.58,475.20 607.50,474.20C610.42,473.20 613.38,471.87 616.30,470.00C619.22,468.13 622.08,466.22 625.00,463.00C627.92,459.78 631.63,453.62 633.80,450.70C635.97,447.78 636.88,446.88 638.00,445.50C639.12,444.12 639.67,442.48 640.50,442.40C641.33,442.32 642.58,444.57 643.00,445.00" fill="none" stroke="#ff8c00" stroke-width="2.0" stroke-linejoin="round" stroke-linecap="round"/>
<path d="M643.00,445.00C643.07,445.37 643.62,445.82 643.40,447.20C643.18,448.58 642.43,451.12 641.70,453.30C640.97,455.48 639.88,458.25 639.00,460.30C638.12,462.35 637.57,463.85 636.40,465.60C635.23,467.35 633.60,469.20 632.00,470.80C630.40,472.40 628.68,474.03 626.80,475.20C624.92,476.37 623.18,477.15 620.70,477.80C618.22,478.45 614.83,478.68 611.90,479.10C608.97,479.52 605.92,480.02 603.10,480.30C600.28,480.58 597.58,480.58 595.00,480.80C592.42,481.02 590.30,481.25 587.60,481.60C584.90,481.95 581.73,482.47 578.80,482.90C575.87,483.33 572.92,483.68 570.00,484.20C567.08,484.72 564.22,485.45 561.30,486.00C558.38,486.55 555.42,487.32 552.50,487.50C549.58,487.68 546.30,487.18 543.80,487.10C541.30,487.02 538.55,487.02 537.50,487.00C535.30,486.97 531.14,488.87 530.60,491.00" fill="none" stroke="#ff8c00" stroke-width="2.0" stroke-linejoin="round" stroke-linecap="round"/>
<path d="M124.6,465.2V473.7" stroke="#ff0000" stroke-width="1.8"/>
<path d="M120.89999999999999,471.4L124.6,478.2L128.29999999999998,471.4L124.6,473.2Z" fill="#ff0000"/>
<path d="M124.6,491.7V498.6" stroke="#ff0000" stroke-width="1.8"/>
<path d="M120.89999999999999,494.0L124.6,487.2L128.29999999999998,494.0L124.6,492.2Z" fill="#ff0000"/>
<path d="M188.4,466.3V474.2" stroke="#ff0000" stroke-width="1.8"/>
<path d="M184.70000000000002,471.9L188.4,478.7L192.1,471.9L188.4,473.7Z" fill="#ff0000"/>
<path d="M188.4,491.8V499.3" stroke="#ff0000" stroke-width="1.8"/>
<path d="M184.70000000000002,494.1L188.4,487.3L192.1,494.1L188.4,492.3Z" fill="#ff0000"/>
<path d="M263.2,466.5V474.5" stroke="#ff0000" stroke-width="1.8"/>
<path d="M259.5,472.2L263.2,479.0L266.9,472.2L263.2,474.0Z" fill="#ff0000"/>
<path d="M263.2,492.3V500.0" stroke="#ff0000" stroke-width="1.8"/>
<path d="M259.5,494.6L263.2,487.8L266.9,494.6L263.2,492.8Z" fill="#ff0000"/>
<path d="M347.3,464.0V471.9" stroke="#ff0000" stroke-width="1.8"/>
<path d="M343.6,469.59999999999997L347.3,476.4L351.0,469.59999999999997L347.3,471.4Z" fill="#ff0000"/>
<path d="M347.3,489.7V497.0" stroke="#ff0000" stroke-width="1.8"/>
<path d="M343.6,492.0L347.3,485.2L351.0,492.0L347.3,490.2Z" fill="#ff0000"/>
<path d="M448.4,464.8V472.6" stroke="#ff0000" stroke-width="1.8"/>
<path d="M444.7,470.3L448.4,477.1L452.09999999999997,470.3L448.4,472.1Z" fill="#ff0000"/>
<path d="M448.4,491.5V498.9" stroke="#ff0000" stroke-width="1.8"/>
<path d="M444.7,493.8L448.4,487.0L452.09999999999997,493.8L448.4,492.0Z" fill="#ff0000"/>
<path d="M574.3,464.0V472.2" stroke="#ff0000" stroke-width="1.8"/>
<path d="M570.5999999999999,469.9L574.3,476.7L578.0,469.9L574.3,471.7Z" fill="#ff0000"/>
<path d="M574.3,490.5V497.0" stroke="#ff0000" stroke-width="1.8"/>
<path d="M570.5999999999999,492.8L574.3,486.0L578.0,492.8L574.3,491.0Z" fill="#ff0000"/>
<rect x="68.6" y="311.2" width="604.20" height="226.10" fill="none" stroke="#000" stroke-width="2.2"/>
<path d="M68.6,537.30H77.39999999999999M68.6,518.46H73.0M68.6,499.62H77.39999999999999M68.6,480.77H73.0M68.6,461.93H77.39999999999999M68.6,443.09H73.0M68.6,424.25H77.39999999999999M68.6,405.41H73.0M68.6,386.57H77.39999999999999M68.6,367.72H73.0M68.6,348.88H77.39999999999999M68.6,330.04H73.0M68.6,311.20H77.39999999999999" stroke="#000" stroke-width="2"/>
<text x="58.00" y="543.90" font-size="18.0" font-weight="bold" text-anchor="end" fill="#000" >0</text>
<text x="58.00" y="506.22" font-size="18.0" font-weight="bold" text-anchor="end" fill="#000" >100</text>
<text x="58.00" y="468.53" font-size="18.0" font-weight="bold" text-anchor="end" fill="#000" >200</text>
<text x="58.00" y="430.85" font-size="18.0" font-weight="bold" text-anchor="end" fill="#000" >300</text>
<text x="58.00" y="393.17" font-size="18.0" font-weight="bold" text-anchor="end" fill="#000" >400</text>
<text x="58.00" y="355.48" font-size="18.0" font-weight="bold" text-anchor="end" fill="#000" >500</text>
<text x="58.00" y="317.80" font-size="18.0" font-weight="bold" text-anchor="end" fill="#000" >600</text>
<text transform="translate(21.4,423.8) rotate(-90)" text-anchor="middle" font-size="20.4" font-weight="bold">Tensile strength (MPa)</text>
<text x="370.60" y="561.00" font-size="20" font-weight="bold" text-anchor="middle" fill="#000" >Tensile strain (%)</text>
<text x="79.40" y="334.50" font-size="20.8" font-weight="bold" text-anchor="start" fill="#000" >0.3V0.3Si</text>
<path d="M91.2,399.5L146.6,344.3Q159,368 157,399.5Z" fill="none" stroke="#333" stroke-width="1"/>
<circle cx="110.9" cy="381.0" r="0.9" fill="#3399cc"/>
<path d="M118.9,385.1L125.0,388.3" stroke="#000" stroke-width="1.6"/>
<path d="M114,382.6L122,382.9L118.9,385.1L118.9,388.9Z" fill="#000"/>
<text x="126.3" y="394.8" font-size="13.6" font-weight="bold">[141]</text>
<path d="M137.6,383.5H145.4" stroke="#000" stroke-width="1"/>
<text x="372.00" y="333.20" font-size="18.2" font-weight="bold" text-anchor="middle" fill="#000" >Test temperature: 298 K</text>
<text x="372" y="353.6" font-size="18.2" font-weight="bold" text-anchor="middle">Strain rate: 4<tspan font-size="20">×</tspan>10<tspan font-size="12" dy="-6">-4</tspan><tspan dy="6"> s</tspan><tspan font-size="12" dy="-6">-1</tspan></text>
<path d="M474.7,318.5H505.2" stroke="#000000" stroke-width="1.6"/>
<text x="509.20" y="324.10" font-size="13.2" font-weight="bold" text-anchor="start" fill="#000" >4%</text>
<path d="M543.8,318.5H574.3" stroke="#ff0000" stroke-width="1.6"/>
<text x="578.30" y="324.10" font-size="13.2" font-weight="bold" text-anchor="start" fill="#000" >6%</text>
<path d="M612.8,318.5H643.3" stroke="#0000ff" stroke-width="1.6"/>
<text x="647.30" y="324.10" font-size="13.2" font-weight="bold" text-anchor="start" fill="#000" >8%</text>
<path d="M474.7,338H505.2" stroke="#44bb44" stroke-width="1.6"/>
<text x="509.20" y="344.20" font-size="13.2" font-weight="bold" text-anchor="start" fill="#000" >10%</text>
<path d="M542.8,338H573.3" stroke="#8000ff" stroke-width="1.6"/>
<text x="577.30" y="344.20" font-size="13.2" font-weight="bold" text-anchor="start" fill="#000" >12%</text>
<path d="M610.6,338H641.1" stroke="#ff8c00" stroke-width="1.6"/>
<text x="645.10" y="344.20" font-size="13.2" font-weight="bold" text-anchor="start" fill="#000" >13%</text>
<text x="229.40" y="447.60" font-size="18.05" font-weight="bold" text-anchor="start" fill="#ff0000" >Low stress hysteresis ~8 MPa</text>
<text x="618.50" y="419.10" font-size="13.7" font-weight="bold" text-anchor="middle" fill="#000" >Max driving force</text>
<text x="618.00" y="435.20" font-size="13.5" font-weight="bold" text-anchor="middle" fill="#000" >251.1 MPa</text>
<text x="629.50" y="491.30" font-size="13.8" font-weight="bold" text-anchor="middle" fill="#000" >149.6 MPa</text>
<text x="627.60" y="508.00" font-size="13.7" font-weight="bold" text-anchor="middle" fill="#000" >Critical stress</text>
<text x="631.60" y="527.90" font-size="21" font-weight="normal" text-anchor="start" fill="#000" stroke="#000" stroke-width="0.45">2%</text>
<rect x="635.3" y="529.1" width="19.6" height="3.6" fill="#000"/>
</svg></body></html>
